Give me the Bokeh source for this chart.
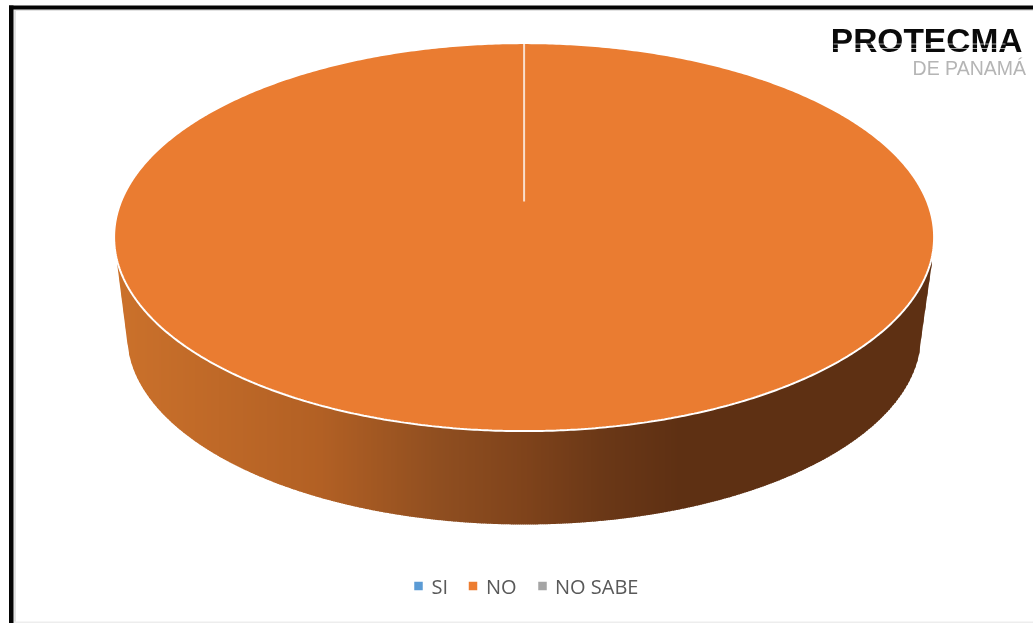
import numpy as np
from bokeh.plotting import figure
from bokeh.embed import file_html
from bokeh.resources import INLINE
from bokeh.core.properties import value

categories = ["SI", "NO", "NO SABE"]
shares = [0, 100, 0]
colors = ["#5B9BD5", "#ED7D31", "#A5A5A5"]
logo_title = "PROTECMA"
logo_subtitle = "DE PANAMÁ"

W, H = 1033, 623
p = figure(width=W, height=H, x_range=(0, W), y_range=(H, 0), output_backend="svg",
           toolbar_location=None, min_border=0, outline_line_color=None,
           background_fill_color="white", border_fill_color="white")
p.axis.visible = False
p.grid.visible = False
p.styles = {"position": "fixed", "left": "0px", "top": "0px"}

# frame
p.quad(left=[13], right=[15.5], top=[9], bottom=[H], fill_color="#E2E2E2", line_color=None)
p.quad(left=[13], right=[W], top=[9], bottom=[10.5], fill_color="#E2E2E2", line_color=None)
p.quad(left=[13], right=[W], top=[621], bottom=[H], fill_color="#EDEDED", line_color=None)
p.quad(left=[8.5], right=[13], top=[5], bottom=[H], fill_color="#050505", line_color=None)
p.quad(left=[8.5], right=[W], top=[5], bottom=[9], fill_color="#050505", line_color=None)

# pie geometry
cx, cy, rx, ry = 523.6, 236.6, 410, 194
apex_y = 201
bcy, brx, bry = 335, 397, 189

def top_y(x):
    return cy + ry * np.sqrt(np.clip(1 - ((x - cx) / rx) ** 2, 0, 1))

def bottom_y(x, x0=127.0, x1=921.0, ya=262.0):
    y = bcy + bry * np.sqrt(np.clip(1 - ((x - cx) / brx) ** 2, 0, 1))
    yl = ya + (x - 116.5) / (x0 - 116.5) * (bcy + bry * np.sqrt(max(0, 1 - ((x0 - cx) / brx) ** 2)) - ya)
    yr = ya + (931.5 - x) / (931.5 - x1) * (bcy + bry * np.sqrt(max(0, 1 - ((x1 - cx) / brx) ** 2)) - ya)
    y = np.where(x < x0, yl, y)
    return np.where(x > x1, yr, y)

stop_x = [116, 320, 440, 524, 600, 680, 932]
stop_rgb = np.array([[203, 113, 43], [178, 96, 36], [143, 78, 32], [127, 67, 27],
                     [107, 56, 23], [94, 48, 19], [94, 48, 19]])
edges = np.arange(116.5, 932.0, 2.0)
edges = np.append(edges, 931.5)
xs, ys, fills = [], [], []
for a, b in zip(edges[:-1], edges[1:]):
    b2 = min(b + 0.6, 931.5)
    xs.append([a, b2, b2, a])
    ys.append([float(top_y(a)) - 1, float(top_y(b2)) - 1, float(bottom_y(np.array(b2))), float(bottom_y(np.array(a)))])
    m = (a + b) / 2
    c = [int(round(np.interp(m, stop_x, stop_rgb[:, i]))) for i in range(3)]
    fills.append("#%02x%02x%02x" % tuple(c))
p.patches(xs, ys, fill_color=fills, line_color=None)

# top face: slices clockwise from 12 o'clock, from the values
total = sum(shares)
start = 0.0
for name, share, col in zip(categories, shares, colors):
    if share > 0:
        t = np.linspace(start, start + 2 * np.pi * share / total, 721)
        fx = cx + rx * np.sin(t)
        fy = cy - ry * np.cos(t)
        if share < total:
            fx = np.append(fx, cx)
            fy = np.append(fy, apex_y)
        p.patch(fx, fy, fill_color="#EA7C31", line_color="white", line_width=2)
    # boundary of the slice
    p.line([cx + rx * np.sin(start), cx], [cy - ry * np.cos(start), apex_y],
           line_color="white", line_alpha=0.75 if share > 0 else 0, line_width=2)
    start += 2 * np.pi * share / total

# legend
leg_sq_x = [418, 472.5, 542]
leg_tx_x = [431, 485.5, 554.5]
p.scatter(leg_sq_x, [585.5] * 3, marker="square", size=8.5, fill_color=colors, line_color=None)
p.text(leg_tx_x, [585.5] * 3, text=categories, text_font=value("Open Sans"), text_font_size="20px",
       text_color="#595959", text_baseline="middle", text_align="left")

# logo
p.text([1022], [40], text=[logo_title], text_font=value("Liberation Sans"), text_font_style="bold",
       text_font_size="33.5px", text_color="#0A0A0A", text_baseline="middle", text_align="right")
p.segment(x0=[833, 833], y0=[43.5, 48], x1=[1005, 1005], y1=[43.5, 48], line_color="white",
          line_alpha=0.65, line_width=1)
p.text([1025.5], [67.5], text=[logo_subtitle], text_font=value("Liberation Sans"),
       text_font_size="19.5px", text_color="#B5B5B5", text_baseline="middle", text_align="right")

open("out.html", "w").write(file_html(p, INLINE))
